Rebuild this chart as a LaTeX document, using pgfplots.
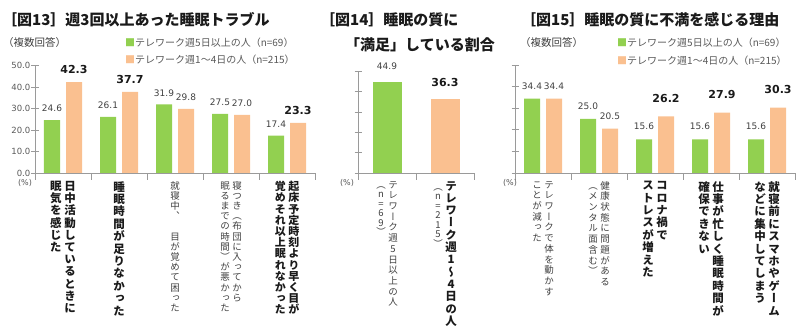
\documentclass[border=0pt]{standalone}
\usepackage{fontspec}
\setmainfont{DejaVu Sans}
\newfontfamily\jp{Noto Sans CJK JP}
\newfontfamily\jpv[RawFeature=+vert]{Noto Sans CJK JP}
\usepackage{pgfplots}
\pgfplotsset{compat=1.18}
\usepackage{pgfplotstable}

\definecolor{cgreen}{HTML}{92D050}
\definecolor{corange}{HTML}{FAC090}
\definecolor{axgray}{HTML}{9A9A9A}
\definecolor{txgray}{HTML}{595959}
\definecolor{txlab}{HTML}{404040}
\definecolor{txdark}{HTML}{1A1A1A}

\def\vcolaux#1{\ifx#1\relax\else\hbox to 1em{\hss#1\hss}\expandafter\vcolaux\fi}
\def\VS{\phantom{中}}
\DeclareRobustCommand\VR[3]{{\color{txlab}\vtop{\jpv\mdseries\fontsize{#1}{#2}\selectfont\baselineskip=#2\relax\lineskiplimit=-\maxdimen\lineskip=0pt\relax\vcolaux#3\relax}}}
\DeclareRobustCommand\VB[3]{{\color{txdark}\vtop{\jpv\bfseries\fontsize{#1}{#2}\selectfont\baselineskip=#2\relax\lineskiplimit=-\maxdimen\lineskip=0pt\relax\vcolaux#3\relax}}}
\DeclareRobustCommand\TWO[2]{\hbox{#2\hskip2.5pt\relax#1}}

\pgfkeys{/my/ys/.initial=8pt, /my/br/.initial=0pt}
\newcommand\numfmt[1]{\pgfmathprintnumber[assume math mode=true,fixed,fixed zerofill,precision=1]{#1}}

\pgfplotstableread{
x y b
0 24.6 0
1 26.1 0
2 31.9 0
3 27.5 0
4 17.4 0
}\aG
\pgfplotstableread{
x y b
0 42.3 1
1 37.7 1
2 29.8 0
3 27.0 0
4 23.3 1
}\aO
\pgfplotstableread{
x y b
0 44.9 0
}\bG
\pgfplotstableread{
x y b
1 36.3 1
}\bO
\pgfplotstableread{
x y b
0 34.4 0
1 25.0 0
2 15.6 0
3 15.6 0
4 15.6 0
}\cG
\pgfplotstableread{
x y b
0 34.4 0
1 20.5 0
2 26.2 1
3 27.9 1
4 30.3 1
}\cO

\pgfplotsset{
  mybars/.style={
    scale only axis, anchor=origin,
    axis lines*=left, axis line style={draw=axgray, -},
    ymin=0, ymax=50,
    ytick={0,10,20,30,40,50},
    tick align=center, major tick length=7pt, minor tick length=7pt,
    tick style={draw=axgray, line width=0.6pt},
    major x tick style={draw=none},
    xticklabel style={anchor=north, inner sep=0pt, yshift=-1pt},
    yticklabel style={font=\fontsize{8.5pt}{10pt}\selectfont, text=txgray, inner sep=1pt},
    yticklabel={\numfmt{\tick}},
    point meta=explicit symbolic,
    visualization depends on={y \as \rawy},
    nodes near coords={\ifdim\pgfplotspointmeta pt>0.5pt\raisebox{\pgfkeysvalueof{/my/br}}{\color{txdark}\bfseries\fontsize{11pt}{13pt}\selectfont\numfmt{\rawy}}\else\color{txlab}\fontsize{9pt}{11pt}\selectfont\numfmt{\rawy}\fi},
    every node near coord/.append style={anchor=south, inner sep=0pt, yshift=\pgfkeysvalueof{/my/ys}},
  },
}

\begin{document}
\begin{tikzpicture}
\useasboundingbox (0pt,0pt) rectangle (800pt,336pt);

% ---------- Figure 13 ----------
\begin{axis}[mybars, at={(63pt,163pt)}, width=280pt, height=107.5pt,
  xmin=-0.5, xmax=4.5, xtick={0,1,2,3,4}, minor xtick={-0.5,0.5,1.5,2.5,3.5,4.5},
  ybar=6pt, bar width=16pt, /my/ys=8pt, /my/br=0pt,
  xticklabels={
    {\TWO{\VB{11.5pt}{12.2pt}{日中活動しているときに}}{\VB{11.5pt}{12.2pt}{眠気を感じた}}},
    {\VB{11.5pt}{12.4pt}{睡眠時間が足りなかった}},
    {\VR{9.5pt}{10.2pt}{就寝中、\VS 目が覚めて困った}},
    {\TWO{\VR{9.5pt}{10.2pt}{寝つき（布団に入ってから}}{\VR{9.5pt}{10.2pt}{眠るまでの時間）が悪かった}}},
    {\TWO{\VB{11pt}{11.2pt}{起床予定時刻より早く目が}}{\VB{11pt}{11.2pt}{覚めそれ以上眠れなかった}}}
  }]
\addplot[fill=cgreen, draw=none] table[x=x,y=y,meta=b]{\aG};
\addplot[fill=corange, draw=none] table[x=x,y=y,meta=b]{\aO};
\end{axis}

% ---------- Figure 14 ----------
\begin{axis}[mybars, at={(387pt,163pt)}, width=116pt, height=101.5pt,
  xmin=-0.5, xmax=1.5, xtick={0,1}, minor xtick={-0.5,0.5,1.5},
  yticklabels={},
  ybar, bar width=29pt, bar shift=0pt, /my/ys=12pt, /my/br=0pt,
  xticklabels={
    {\TWO{\VR{9.5pt}{10.7pt}{テレワーク週5日以上の人}}{\VR{9.5pt}{9.5pt}{（n=69）}}},
    {\TWO{\VB{11.5pt}{12.3pt}{テレワーク週1～4日の人}}{\VR{9.5pt}{9.5pt}{（n=215）}}}
  }]
\addplot[fill=cgreen, draw=none] table[x=x,y=y,meta=b]{\bG};
\addplot[fill=corange, draw=none] table[x=x,y=y,meta=b]{\bO};
\end{axis}

% ---------- Figure 15 ----------
\begin{axis}[mybars, at={(543pt,163pt)}, width=280pt, height=108pt,
  xmin=-0.5, xmax=4.5, xtick={0,1,2,3,4}, minor xtick={-0.5,0.5,1.5,2.5,3.5,4.5},
  yticklabels={},
  ybar=6pt, bar width=16pt, /my/ys=9pt, /my/br=5pt,
  xticklabels={
    {\TWO{\VR{9.5pt}{10.7pt}{テレワークで体を動かす}}{\VR{9.5pt}{10.7pt}{ことが減った}}},
    {\TWO{\VR{9.5pt}{10.7pt}{健康状態に問題がある}}{\VR{9.5pt}{10.7pt}{（メンタル面含む）}}},
    {\TWO{\VB{11.5pt}{12.4pt}{コロナ禍で}}{\VB{11.5pt}{12.4pt}{ストレスが増えた}}},
    {\TWO{\VB{11.5pt}{12.4pt}{仕事が忙しく睡眠時間が}}{\VB{11.5pt}{12.4pt}{確保できない}}},
    {\TWO{\VB{11.5pt}{12.4pt}{就寝前にスマホやゲーム}}{\VB{11.5pt}{12.4pt}{などに集中してしまう}}}
  }]
\addplot[fill=cgreen, draw=none] table[x=x,y=y,meta=b]{\cG};
\addplot[fill=corange, draw=none] table[x=x,y=y,meta=b]{\cO};
\end{axis}

% ---------- titles and texts ----------
\begin{scope}[every node/.style={inner sep=0pt, anchor=west}]
\node[font=\jp\bfseries\fontsize{15pt}{18pt}\selectfont, text=txdark] at (2pt,316pt) {［図13］週3回以上あった睡眠トラブル};
\node[font=\jp\bfseries\fontsize{15pt}{18pt}\selectfont, text=txdark] at (320pt,316pt) {［図14］睡眠の質に};
\node[font=\jp\bfseries\fontsize{15pt}{18pt}\selectfont, text=txdark] at (345pt,291pt) {「満足」している割合};
\node[font=\jp\bfseries\fontsize{15pt}{18pt}\selectfont, text=txdark] at (521pt,316pt) {［図15］睡眠の質に不満を感じる理由};

\node[font=\jp\fontsize{10.5pt}{12pt}\selectfont, text=txlab] at (3pt,293pt) {（複数回答）};
\node[font=\jp\fontsize{10.5pt}{12pt}\selectfont, text=txlab] at (520pt,293pt) {（複数回答）};

\node[font=\jp\fontsize{10pt}{12pt}\selectfont, text=txgray] at (125pt,293pt) {{\color{cgreen}■}テレワーク週5日以上の人（n=69）};
\node[font=\jp\fontsize{10pt}{12pt}\selectfont, text=txgray] at (125pt,276pt) {{\color{corange}■}テレワーク週1～4日の人（n=215）};
\node[font=\jp\fontsize{10pt}{12pt}\selectfont, text=txgray] at (617pt,293pt) {{\color{cgreen}■}テレワーク週5日以上の人（n=69）};
\node[font=\jp\fontsize{10pt}{12pt}\selectfont, text=txgray] at (617pt,275pt) {{\color{corange}■}テレワーク週1～4日の人（n=215）};
\end{scope}
\begin{scope}[every node/.style={inner sep=0pt, font=\fontsize{8pt}{10pt}\selectfont, text=txgray}]
\node at (25pt,153pt) {(\%)};
\node at (347pt,153pt) {(\%)};
\node at (510pt,153pt) {(\%)};
\end{scope}
\end{tikzpicture}
\end{document}
